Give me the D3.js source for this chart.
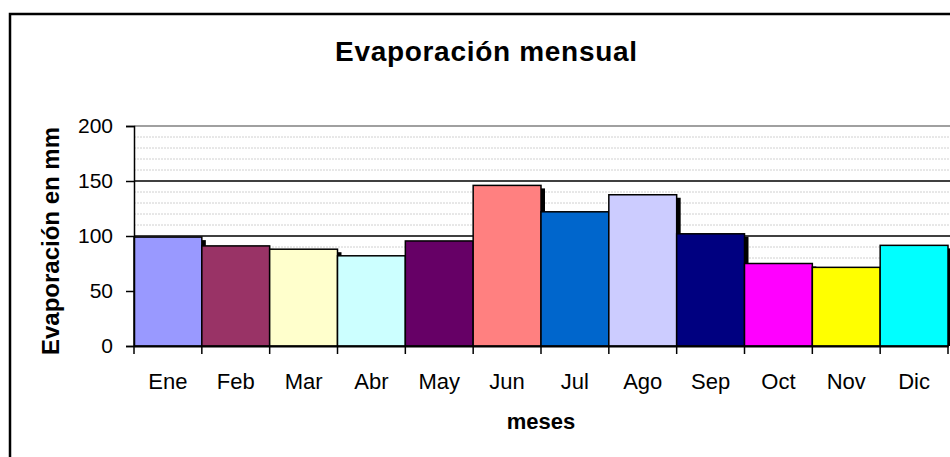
<!DOCTYPE html>
<html>
<head>
<meta charset="utf-8">
<script src="https://cdn.jsdelivr.net/npm/d3@7"></script>
<style>
  body { margin: 0; background: #fff; }
  text { font-family: "Liberation Sans", Arial, sans-serif; }
</style>
</head>
<body>
<script>
var meses = ["Ene","Feb","Mar","Abr","May","Jun","Jul","Ago","Sep","Oct","Nov","Dic"];
var evaporacion = [99, 91, 88, 82, 95.5, 146, 122, 137.5, 102, 75, 71.5, 91.5];
var colores = ["#9999FF","#993366","#FFFFCC","#CCFFFF","#660066","#FF8080",
               "#0066CC","#CCCCFF","#000080","#FF00FF","#FFFF00","#00FFFF"];
var yTicks = [0, 50, 100, 150, 200];

var W = 950, H = 457;
var m = {left: 134, right: 2, top: 126, bottom: 111};

var svg = d3.select("body").append("svg")
    .attr("width", W).attr("height", H);

// outer chart border
svg.append("rect")
    .attr("x", 10).attr("y", 14).attr("width", W).attr("height", H)
    .attr("fill", "#fff").attr("stroke", "#000").attr("stroke-width", 2.5);

var x = d3.scaleBand().domain(meses).range([m.left, W - m.right]).padding(0);
var y = d3.scaleLinear().domain([0, 200]).range([H - m.bottom, m.top]);

// minor gridlines
svg.append("g").selectAll("line")
    .data(d3.range(0, 201, 10).filter(function(d){ return d % 50 != 0; }))
    .enter().append("line")
    .attr("x1", m.left).attr("x2", W)
    .attr("y1", function(d){ return y(d); }).attr("y2", function(d){ return y(d); })
    .attr("stroke", "#d0d0d0").attr("stroke-width", 1).attr("stroke-dasharray", "2,1");

// major gridlines
svg.append("g").selectAll("line")
    .data([50, 100, 150, 200])
    .enter().append("line")
    .attr("x1", m.left).attr("x2", W)
    .attr("y1", function(d){ return y(d); }).attr("y2", function(d){ return y(d); })
    .attr("stroke", function(d){ return d == 200 ? "#808080" : "#000"; })
    .attr("stroke-width", 1.5);

// shadows
svg.append("g").selectAll("rect")
    .data(evaporacion)
    .enter().append("rect")
    .attr("x", function(d, i){ return x(meses[i]) + 4; })
    .attr("y", function(d){ return y(d) + 3; })
    .attr("width", x.bandwidth())
    .attr("height", function(d){ return y(0) - y(d) - 3; })
    .attr("fill", "#000");

// bars
svg.append("g").selectAll("rect")
    .data(evaporacion)
    .enter().append("rect")
    .attr("x", function(d, i){ return x(meses[i]); })
    .attr("y", function(d){ return y(d); })
    .attr("width", x.bandwidth())
    .attr("height", function(d){ return y(0) - y(d); })
    .attr("fill", function(d, i){ return colores[i]; })
    .attr("stroke", "#000").attr("stroke-width", 1.5);

// y axis
var yAxis = svg.append("g")
    .attr("transform", "translate(" + m.left + ",0)")
    .call(d3.axisLeft(y).tickValues(yTicks).tickSize(8).tickPadding(13));
yAxis.select(".domain").attr("stroke", "#000").attr("stroke-width", 1.5);
yAxis.selectAll(".tick line").attr("stroke", "#000").attr("stroke-width", 1.5);
yAxis.selectAll("text").attr("font-size", 21).attr("fill", "#000")
    .style("font-family", "Liberation Sans, Arial, sans-serif");

// x axis
var xAxis = svg.append("g")
    .attr("transform", "translate(0," + y(0) + ")")
    .call(d3.axisBottom(x).tickSize(0).tickPadding(27));
xAxis.select(".domain").attr("stroke", "#000").attr("stroke-width", 2);
xAxis.selectAll("text").attr("font-size", 22).attr("fill", "#000")
    .style("font-family", "Liberation Sans, Arial, sans-serif");
// ticks between categories
svg.append("g").selectAll("line")
    .data(d3.range(meses.length + 1))
    .enter().append("line")
    .attr("x1", function(i){ return m.left + i * x.bandwidth(); })
    .attr("x2", function(i){ return m.left + i * x.bandwidth(); })
    .attr("y1", y(0)).attr("y2", y(0) + 8)
    .attr("stroke", "#000").attr("stroke-width", 1.5);

// titles
svg.append("text")
    .attr("x", 486).attr("y", 61)
    .attr("text-anchor", "middle")
    .attr("font-size", 28).attr("font-weight", "bold")
    .attr("textLength", 302).attr("lengthAdjust", "spacing")
    .text("Evaporación mensual");

svg.append("text")
    .attr("x", 541).attr("y", 429)
    .attr("text-anchor", "middle")
    .attr("font-size", 22).attr("font-weight", "bold")
    .text("meses");

svg.append("text")
    .attr("transform", "translate(59,241) rotate(-90)")
    .attr("text-anchor", "middle")
    .attr("font-size", 24).attr("font-weight", "bold")
    .text("Evaporación en mm");
</script>
</body>
</html>
